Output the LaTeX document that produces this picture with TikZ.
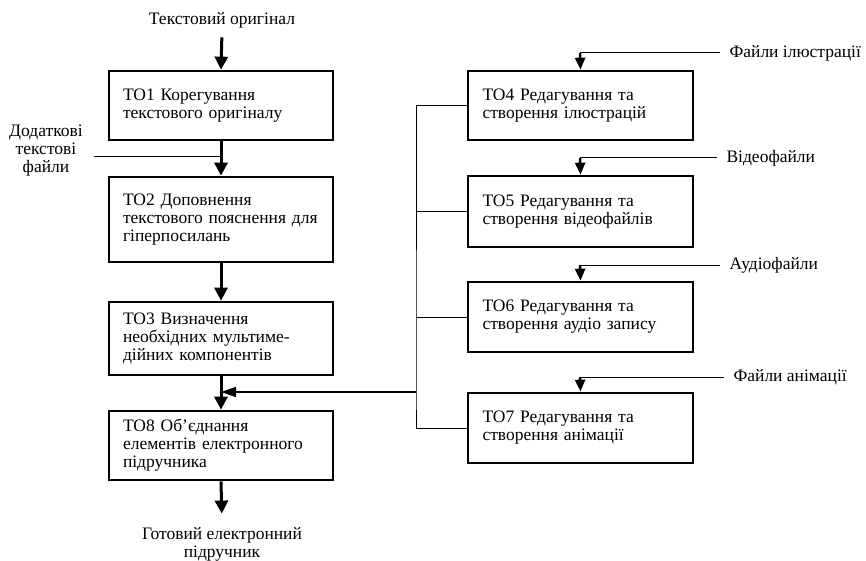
\documentclass[tikz,border=0pt]{standalone}
\usepackage{fontspec}
\setmainfont{Liberation Serif}
\usetikzlibrary{arrows.meta}

\tikzset{
	stage/.style={draw, line width=2.7pt, minimum width=224pt, inner xsep=14pt,
		text width=196pt, align=left, font=\fontsize{17.5}{18}\selectfont},
	srctext/.style={align=center, font=\fontsize{17.5}{18}\selectfont},
	flow/.style={line width=3pt, -{Triangle[length=13pt,width=13pt]}},
	mediaflow/.style={line width=2.5pt, -{Triangle[length=12pt,width=10pt]}},
	sideflow/.style={line width=1.5pt, -{Triangle[length=15pt,width=10pt]}},
	feed/.style={line width=1pt},
}

\begin{document}
\begin{tikzpicture}[x=1pt,y=-1pt]
			%%%%% START %%%%%
			\useasboundingbox (0,0) rectangle (866,561);
			
			% left column
			\node[stage, minimum height=69pt] (to1) at (221,105.5) {ТО1 Корегування\\текстового оригіналу};
			\node[stage, minimum height=85pt] (to2) at (221,219.5) {ТО2 Доповнення\\текстового пояснення для\\гіперпосилань};
			\node[stage, minimum height=73pt] (to3) at (221,338.5) {ТО3 Визначення\\необхідних мультиме-\\дійних компонентів};
			\node[stage, minimum height=69pt] (to8) at (221,445.5) {ТО8 Об’єднання\\елементів електронного\\підручника};
			
			% right column
			\node[stage, minimum width=225pt] (to4) at (580.5,105.5) [minimum height=69pt] {ТО4 Редагування та\\створення ілюстрацій};
			\node[stage, minimum width=225pt] (to5) at (580.5,211.5) [minimum height=71pt] {ТО5 Редагування та\\створення відеофайлів};
			\node[stage, minimum width=225pt] (to6) at (580.5,317) [minimum height=70pt] {ТО6 Редагування та\\створення аудіо запису};
			\node[stage, minimum width=225pt] (to7) at (580.5,428) [minimum height=70pt] {ТО7 Редагування та\\створення анімації};
			
			% texts
			\node[srctext] (orig) at (222,20) {Текстовий оригінал};
			\node[srctext] (dod) at (46,151) {Додаткові\\текстові\\файли};
			\node[srctext] (done) at (222,544) {Готовий електронний\\підручник};
			\node[srctext, anchor=west] (f4) at (726,53) {Файли ілюстрації};
			\node[srctext, anchor=west] (f5) at (723,158) {Відеофайли};
			\node[srctext, anchor=west] (f6) at (726,265) {Аудіофайли};
			\node[srctext, anchor=west] (f7) at (730,377) {Файли анімації};
			
			\coordinate (in2) at (221,157);
			\coordinate (in4) at (580,53);
			\coordinate (in5) at (580,158);
			\coordinate (in6) at (580,265);
			\coordinate (in7) at (580,377);
			\coordinate (bus) at (416,392);
			
			% main flow
			\draw[flow, shorten <=6pt] (orig.south) -- (to1.north);
			\draw[flow] (to1.south) -- (to2.north);
			\draw[flow] (to2.south) -- (to3.north);
			\draw[flow] (to3.south) -- (to8.north);
			\draw[flow, shorten >=10pt] (to8.south) -- (done.north);
			\draw[feed, shorten <=8pt] (dod.east |- in2) -- (in2);
			
			% inputs of the media stages
			\draw[feed, shorten <=6pt] (f4.west) -- (in4);
			\draw[mediaflow] (in4) -- (to4.north);
			\draw[feed, shorten <=6pt] (f5.west) -- (in5);
			\draw[mediaflow] (in5) -- (to5.north);
			\draw[feed, shorten <=6pt] (f6.west) -- (in6);
			\draw[mediaflow] (in6) -- (to6.north);
			\draw[feed, shorten <=6pt] (f7.west) -- (in7);
			\draw[mediaflow] (in7) -- (to7.north);
			
			% collecting bus
			\draw[feed] (to4.west) -| (bus) |- (to7.west);
			\draw[feed] (to5.west) -- (to5.west -| bus);
			\draw[feed] (to6.west) -- (to6.west -| bus);
			\draw[sideflow] (bus) -- (bus -| to8.north);
			%%%%% END %%%%%
\end{tikzpicture}
\end{document}
